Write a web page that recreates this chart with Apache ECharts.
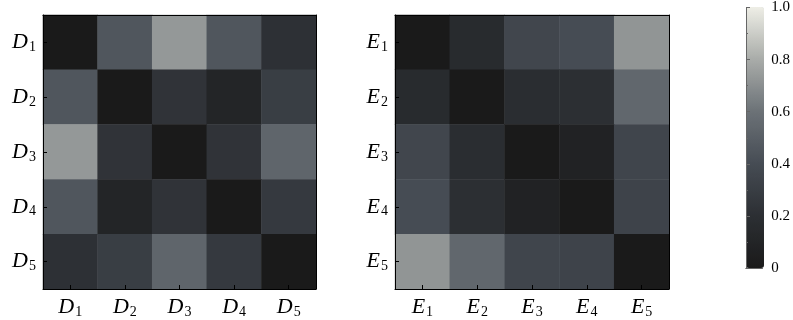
<!DOCTYPE html>
<html><head><meta charset="utf-8">
<script src="https://cdn.jsdelivr.net/npm/echarts@6/dist/echarts.min.js"></script>
<style>html,body{margin:0;padding:0;background:#fff}#c{width:793px;height:320px}</style>
</head><body><div id="c"></div>
<script>
const dLabels = ['1','2','3','4','5'];
const eLabels = ['1','2','3','4','5'];
const dMatrix = [
  [0.00, 0.45, 0.73, 0.45, 0.21],
  [0.45, 0.00, 0.23, 0.10, 0.30],
  [0.73, 0.23, 0.00, 0.23, 0.53],
  [0.45, 0.10, 0.23, 0.00, 0.27],
  [0.21, 0.30, 0.53, 0.27, 0.00]
];
const eMatrix = [
  [0.00, 0.16, 0.36, 0.40, 0.72],
  [0.16, 0.00, 0.18, 0.20, 0.54],
  [0.36, 0.18, 0.00, 0.08, 0.35],
  [0.40, 0.20, 0.08, 0.00, 0.34],
  [0.72, 0.54, 0.35, 0.34, 0.00]
];
const cbTicks = [0, 0.2, 0.4, 0.6, 0.8, 1.0];
const cmap = ['#1a1a1a', '#2c2f33', '#464c54', '#6c7277', '#a9aca9', '#eeeee6'];

function toData(m) {
  const out = [];
  for (let r = 0; r < m.length; r++)
    for (let c = 0; c < m[r].length; c++) out.push([c, r, m[r][c]]);
  return out;
}
const serif = 'Liberation Serif';
const rich = {
  i: { fontFamily: serif, fontStyle: 'italic', fontSize: 22, color: '#000' },
  s: { fontFamily: serif, fontSize: 14, color: '#000', padding: [10, 0, 0, 1] }
};
function lab(letter) { return v => '{i|' + letter + '}{s|' + v + '}'; }

function axesFor(gi, letter, cats) {
  const x = {
    type: 'category', gridIndex: gi, data: cats, position: 'bottom', z: 10,
    axisLine: { show: true, lineStyle: { color: '#000', width: 1 } },
    axisTick: { show: true, inside: true, alignWithLabel: true, length: 4, interval: 0, lineStyle: { color: '#000' } },
    axisLabel: { formatter: lab(letter), rich: rich, margin: 6, interval: 0 },
    splitLine: { show: false }
  };
  const xt = {
    type: 'category', gridIndex: gi, data: cats, position: 'top', z: 10,
    axisLine: { show: true, lineStyle: { color: '#000', width: 1 } },
    axisTick: { show: false }, axisLabel: { show: false }, splitLine: { show: false }
  };
  const y = {
    type: 'category', gridIndex: gi, data: cats, inverse: true, position: 'left', z: 10,
    axisLine: { show: true, lineStyle: { color: '#000', width: 1 } },
    axisTick: { show: true, inside: true, alignWithLabel: true, length: 4, interval: 0, lineStyle: { color: '#000' } },
    axisLabel: { formatter: lab(letter), rich: rich, margin: 7, interval: 0 },
    splitLine: { show: false }
  };
  const yr = {
    type: 'category', gridIndex: gi, data: cats, inverse: true, position: 'right', z: 10,
    axisLine: { show: true, lineStyle: { color: '#000', width: 1 } },
    axisTick: { show: false }, axisLabel: { show: false }, splitLine: { show: false }
  };
  return { x: [x, xt], y: [y, yr] };
}
const aD = axesFor(0, 'D', dLabels);
const aE = axesFor(1, 'E', eLabels);

const chart = echarts.init(document.getElementById('c'), null, { renderer: 'canvas' });
chart.setOption({
  animation: false,
  backgroundColor: '#fff',
  grid: [
    { left: 43, top: 15, width: 273, height: 274 },
    { left: 395, top: 15, width: 274, height: 274 },
    { left: 746, top: 7, width: 18, height: 261 }
  ],
  xAxis: [
    ...aD.x, ...aE.x,
    { type: 'value', gridIndex: 2, min: 0, max: 1, position: 'bottom', z: 10,
      axisLine: { show: true, lineStyle: { color: '#666', width: 1 } },
      axisTick: { show: false }, axisLabel: { show: false }, splitLine: { show: false } },
    { type: 'value', gridIndex: 2, min: 0, max: 1, position: 'top', z: 10,
      axisLine: { show: true, lineStyle: { color: '#666', width: 1 } },
      axisTick: { show: false }, axisLabel: { show: false }, splitLine: { show: false } }
  ],
  yAxis: [
    ...aD.y, ...aE.y,
    { type: 'value', gridIndex: 2, min: 0, max: 1, interval: 0.2, position: 'right', z: 10,
      axisLine: { show: true, lineStyle: { color: '#666', width: 1 } },
      axisTick: { show: true, length: 4, lineStyle: { color: '#666' } },
      minorTick: { show: true, splitNumber: 2, length: 2, lineStyle: { color: '#666' } },
      axisLabel: { fontFamily: serif, fontSize: 15, color: '#000', margin: 9,
        formatter: v => (v === 0 ? '0' : v.toFixed(1)),
        customValues: cbTicks },
      splitLine: { show: false } },
    { type: 'value', gridIndex: 2, min: 0, max: 1, position: 'left', z: 10,
      axisLine: { show: true, lineStyle: { color: '#666', width: 1 } },
      axisTick: { show: false }, axisLabel: { show: false }, splitLine: { show: false } }
  ],
  visualMap: {
    type: 'continuous', min: 0, max: 1, seriesIndex: [0, 1],
    left: 746, top: 7, itemWidth: 18, itemHeight: 261, padding: 0,
    calculable: false, text: null, showLabel: false,
    textStyle: { color: 'rgba(0,0,0,0)' },
    inRange: { color: cmap }
  },
  series: [
    { type: 'heatmap', xAxisIndex: 0, yAxisIndex: 0, data: toData(dMatrix), itemStyle: { borderWidth: 0 } },
    { type: 'heatmap', xAxisIndex: 2, yAxisIndex: 2, data: toData(eMatrix), itemStyle: { borderWidth: 0 } },
    { type: 'line', xAxisIndex: 4, yAxisIndex: 4, data: [], silent: true }
  ]
});
</script></body></html>
